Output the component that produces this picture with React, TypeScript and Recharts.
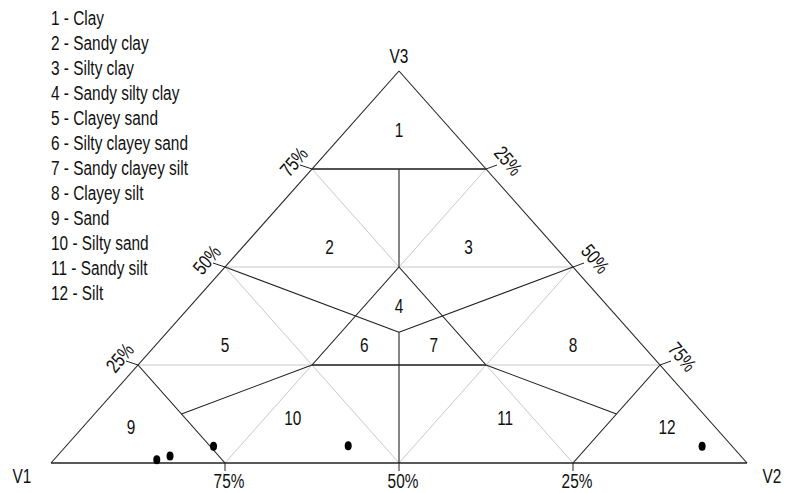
import React from 'react';
import { ScatterChart, Scatter, XAxis, YAxis, ReferenceLine } from 'recharts';

type Comp = [number, number, number]; // V1, V2, V3 in percent

const FONT = '"Liberation Sans", Arial, sans-serif';
const NARROW = 0.77; // the original uses a condensed face

const vertexNames = ['V1', 'V2', 'V3'];
const vertexComps: Comp[] = [[100, 0, 0], [0, 100, 0], [0, 0, 100]];
const gridLevels = [25, 50, 75];

const regionNames = [
  'Clay', 'Sandy clay', 'Silty clay', 'Sandy silty clay', 'Clayey sand', 'Silty clayey sand',
  'Sandy clayey silt', 'Clayey silt', 'Sand', 'Silty sand', 'Sandy silt', 'Silt',
];
const regionLabelComps: Comp[] = [
  [7.5, 7.5, 85], [32.5, 12.5, 55], [12.5, 32.5, 55], [30, 30, 40],
  [60, 10, 30], [40, 30, 30], [30, 40, 30], [10, 60, 30],
  [84, 7, 9], [59.5, 29, 11.5], [29, 59.5, 11.5], [7, 84, 9],
];

const C = 100 / 3;
const boundarySegments: [Comp, Comp][] = [
  [[25, 0, 75], [0, 25, 75]],
  [[12.5, 12.5, 75], [25, 25, 50]],
  [[50, 0, 50], [C, C, C]],
  [[0, 50, 50], [C, C, C]],
  [[25, 25, 50], [50, 25, 25]],
  [[25, 25, 50], [25, 50, 25]],
  [[50, 25, 25], [25, 50, 25]],
  [[C, C, C], [50, 50, 0]],
  [[50, 25, 25], [75, 12.5, 12.5]],
  [[25, 50, 25], [12.5, 75, 12.5]],
  [[75, 0, 25], [75, 25, 0]],
  [[0, 75, 25], [25, 75, 0]],
];

const sampleComps: Comp[] = [
  [84.4, 14.8, 0.8],
  [82.0, 16.2, 1.8],
  [74.5, 21.2, 4.3],
  [55.1, 40.5, 4.4],
  [4.3, 91.4, 4.3],
];

const toXY = ([, b, c]: Comp) => ({ x: (b + c / 2) / 100, y: c / 100 });

const edgeSegments: [Comp, Comp][] = [
  [vertexComps[0], vertexComps[1]],
  [vertexComps[1], vertexComps[2]],
  [vertexComps[2], vertexComps[0]],
];
const gridSegments: [Comp, Comp][] = gridLevels.flatMap((v) => [
  [[v, 100 - v, 0], [v, 0, 100 - v]] as [Comp, Comp],
  [[100 - v, v, 0], [0, v, 100 - v]] as [Comp, Comp],
  [[100 - v, 0, v], [0, 100 - v, v]] as [Comp, Comp],
]);

const leftTicks = gridLevels.map((v) => ({ ...toXY([100 - v, 0, v]), label: `${v}%`, side: 'left' }));
const rightTicks = gridLevels.map((v) => ({ ...toXY([0, v, 100 - v]), label: `${v}%`, side: 'right' }));
const bottomTicks = gridLevels.map((v) => ({ ...toXY([v, 100 - v, 0]), label: `${v}%`, side: 'bottom' }));

const vertexData = vertexNames.map((name, i) => ({ ...toXY(vertexComps[i]), name }));
const regionData = regionLabelComps.map((p, i) => ({ ...toXY(p), label: String(i + 1) }));
const sampleData = sampleComps.map(toXY);

const vertexOffset: Record<string, [number, number]> = { V1: [-29, 20], V2: [25, 20], V3: [0, -8] };

// condensed text: scale horizontally around its anchor
const NText = ({ x, y, rotate = 0, size = 20, central = false, children }: any) => (
  <g transform={`translate(${x} ${y}) rotate(${rotate}) scale(${NARROW} 1)`}>
    <text x={0} y={0} textAnchor="middle" dominantBaseline={central ? 'central' : 'auto'}
      fontFamily={FONT} fontSize={size} fill="#111">
      {children}
    </text>
  </g>
);

const TickShape = (props: any) => {
  const { cx, cy, payload } = props;
  if (payload.side === 'left') {
    return (
      <g>
        <line x1={cx - 12} y1={cy - 4} x2={cx} y2={cy} stroke="#222" />
        <NText x={cx - 18} y={cy - 7} rotate={-50} central>{payload.label}</NText>
      </g>
    );
  }
  if (payload.side === 'right') {
    return (
      <g>
        <line x1={cx} y1={cy} x2={cx + 11} y2={cy - 4} stroke="#222" />
        <NText x={cx + 22} y={cy - 8} rotate={50} central>{payload.label}</NText>
      </g>
    );
  }
  return (
    <g>
      <line x1={cx} y1={cy} x2={cx} y2={cy + 8} stroke="#222" />
      <NText x={cx + 4} y={cy + 25}>{payload.label}</NText>
    </g>
  );
};

const VertexShape = (props: any) => {
  const { cx, cy, payload } = props;
  const [dx, dy] = vertexOffset[payload.name];
  return <NText x={cx + dx} y={cy + dy}>{payload.name}</NText>;
};

const RegionShape = (props: any) => (
  <NText x={props.cx} y={props.cy} central>{props.payload.label}</NText>
);

const DotShape = (props: any) => <ellipse cx={props.cx} cy={props.cy} rx={3.5} ry={4.5} fill="#000" />;

export default function App() {
  const seg = (s: [Comp, Comp]) => [toXY(s[0]), toXY(s[1])];
  return (
    <div style={{ position: 'relative', width: 787, height: 493 }}>
      <style>{'body{margin:0;overflow:hidden}'}</style>
      <div style={{
        position: 'absolute', left: 51, top: 6, fontFamily: FONT, fontSize: 20, lineHeight: '25px',
        color: '#111', transform: `scaleX(${NARROW})`, transformOrigin: 'left top', whiteSpace: 'nowrap',
      }}>
        {regionNames.map((n, i) => (
          <div key={n}>{`${i + 1} - ${n}`}</div>
        ))}
      </div>
      <ScatterChart width={787} height={493} margin={{ top: 71, right: 40, bottom: 30, left: 51 }}
        style={{ overflow: 'visible' }}>
        <XAxis type="number" dataKey="x" domain={[0, 1]} hide />
        <YAxis type="number" dataKey="y" domain={[0, 1]} hide />
        {gridSegments.map((s, i) => (
          <ReferenceLine key={`g${i}`} segment={seg(s)} stroke="#c8c8c8" strokeWidth={1} ifOverflow="visible" />
        ))}
        {boundarySegments.map((s, i) => (
          <ReferenceLine key={`b${i}`} segment={seg(s)} stroke="#222"
            strokeWidth={s[0][2] === s[1][2] ? 1.6 : 1.1} ifOverflow="visible" />
        ))}
        {edgeSegments.map((s, i) => (
          <ReferenceLine key={`e${i}`} segment={seg(s)} stroke="#222" strokeWidth={i === 0 ? 1.6 : 1.1} ifOverflow="visible" />
        ))}
        <Scatter data={[...leftTicks, ...rightTicks, ...bottomTicks]} shape={TickShape} isAnimationActive={false} />
        <Scatter data={vertexData} shape={VertexShape} isAnimationActive={false} />
        <Scatter data={regionData} shape={RegionShape} isAnimationActive={false} />
        <Scatter data={sampleData} shape={DotShape} fill="#000" isAnimationActive={false} />
      </ScatterChart>
    </div>
  );
}
